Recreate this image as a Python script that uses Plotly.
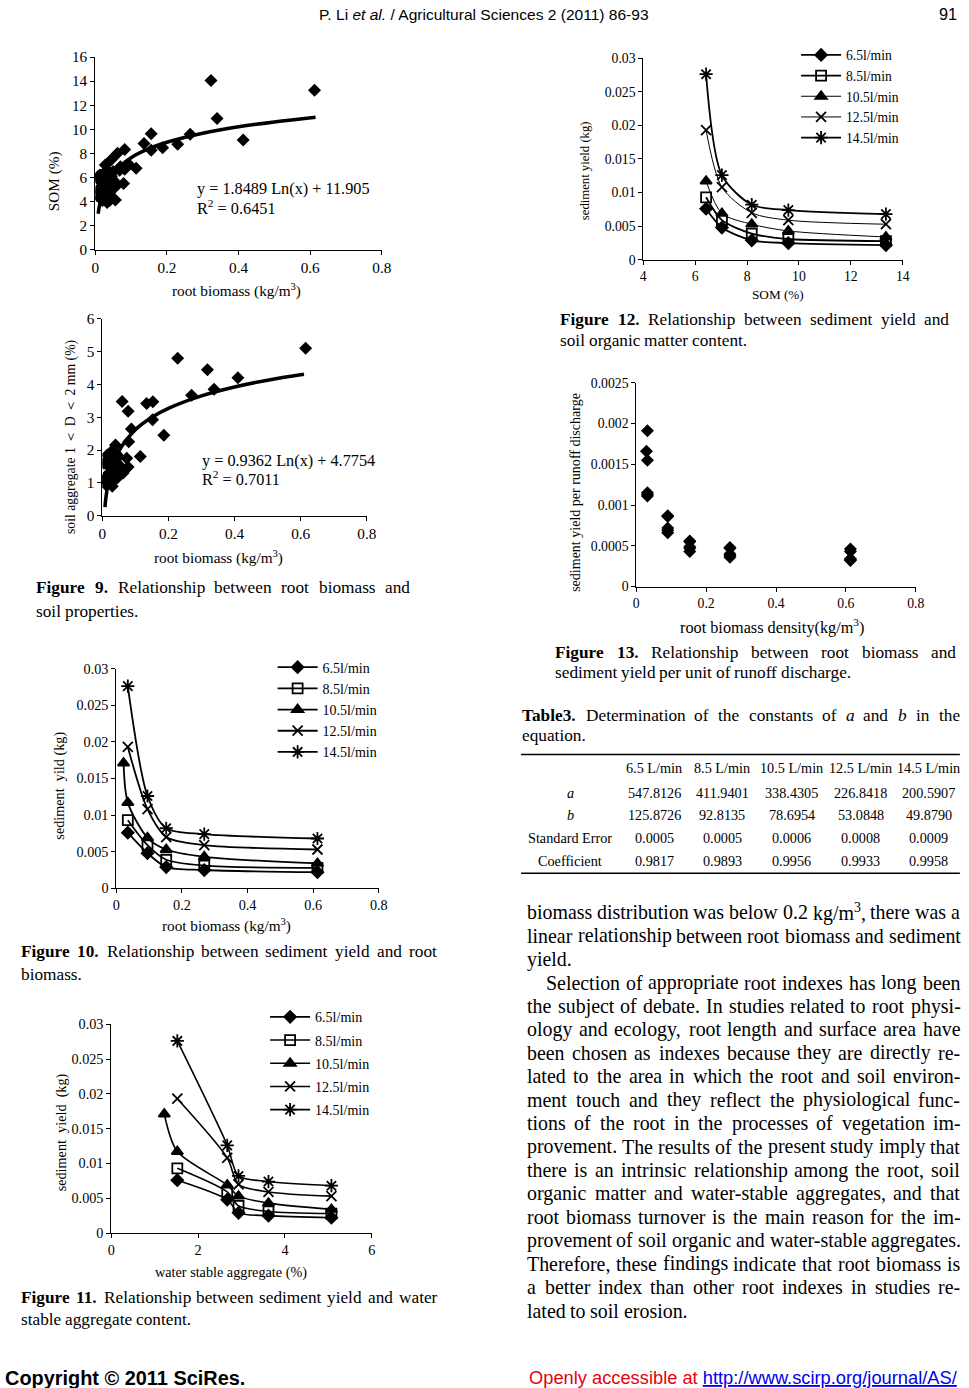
import re
import plotly.graph_objects as go

W, H = 969, 1388
# The page is photographed inside an 8px frame and scaled back to 969x1388,
# so target pixels T are converted to page pixels before use.
SX, SY = (W + 16) / W, (H + 16) / H
FS = SX
XSHIFT = 2
SERIF = "Liberation Serif, Times New Roman, serif"
SANS = "Liberation Sans Narrow, Arial Narrow, Liberation Sans, Arial, sans-serif"

# ---------------- DATA ----------------
# Figure 9a: SOM vs root biomass
som_rb_x = [0.323, 0.612, 0.340, 0.413, 0.156, 0.265, 0.230, 0.188, 0.156, 0.136, 0.114,
            0.082, 0.062, 0.045, 0.028, 0.082, 0.093, 0.079, 0.060, 0.056, 0.033, 0.007,
            0.005, 0.010, 0.015, 0.020, 0.020, 0.025, 0.025, 0.030, 0.030, 0.035, 0.035,
            0.040, 0.040, 0.045, 0.045, 0.050, 0.050, 0.055, 0.015, 0.020, 0.010, 0.040,
            0.028, 0.012, 0.018, 0.038, 0.068, 0.070]
som_rb_y = [14.05, 13.25, 10.90, 9.12, 9.64, 9.60, 8.76, 8.48, 8.26, 8.82, 6.78,
            8.32, 8.02, 7.50, 7.05, 6.70, 7.10, 5.50, 5.45, 4.13, 3.94, 6.06,
            4.50, 5.80, 6.20, 5.50, 4.80, 5.20, 6.40, 4.40, 5.90, 5.00, 6.60,
            4.60, 5.60, 6.10, 4.30, 5.80, 6.50, 5.20, 4.30, 4.10, 5.00, 4.10,
            4.70, 6.20, 5.30, 5.40, 6.60, 6.90]
som_fit_x = [0.008, 0.012, 0.02, 0.03, 0.05, 0.1, 0.15, 0.2, 0.3, 0.4, 0.5, 0.615]
som_fit_y = [3.0, 3.73, 4.67, 5.42, 6.37, 7.65, 8.40, 8.93, 9.68, 10.21, 10.62, 11.01]

# Figure 9b: soil aggregate vs root biomass
agg_rb_x = [0.615, 0.228, 0.318, 0.410, 0.338, 0.270, 0.186, 0.152, 0.153, 0.134, 0.060,
            0.078, 0.088, 0.080, 0.115, 0.074, 0.078, 0.063, 0.040, 0.005, 0.010, 0.015,
            0.020, 0.020, 0.025, 0.025, 0.030, 0.030, 0.035, 0.035, 0.040, 0.040, 0.045,
            0.050, 0.050, 0.055, 0.010, 0.015, 0.005, 0.030, 0.045, 0.022, 0.032]
agg_rb_y = [5.10, 4.80, 4.45, 4.20, 3.85, 3.67, 2.45, 2.92, 3.47, 3.42, 3.48,
            3.18, 2.64, 2.25, 1.80, 1.75, 1.48, 1.30, 2.15, 1.60, 1.10, 1.85,
            1.30, 1.60, 1.00, 1.45, 0.90, 1.20, 1.50, 1.75, 1.30, 1.90, 1.60,
            1.40, 1.80, 1.50, 0.95, 1.20, 1.10, 1.70, 1.15, 1.05, 2.00]
agg_fit_x = [0.008, 0.012, 0.02, 0.03, 0.05, 0.1, 0.15, 0.2, 0.3, 0.4, 0.5, 0.61]
agg_fit_y = [0.26, 0.64, 1.11, 1.49, 1.97, 2.62, 3.00, 3.27, 3.65, 3.92, 4.13, 4.31]

# Sediment yield (kg) for five flow rates
flows = ["6.5l/min", "8.5l/min", "10.5l/min", "12.5l/min", "14.5l/min"]
root_x = [0.035, 0.095, 0.152, 0.268, 0.613]
root_x_105 = [0.022, 0.035, 0.095, 0.152, 0.268, 0.613]
wsa_x = [1.52, 2.67, 2.93, 3.62, 5.07]
wsa_x_105 = [1.22, 1.52, 2.67, 2.93, 3.62, 5.07]
som_x = [6.42, 7.03, 8.18, 9.59, 13.35]
sed_65 = [0.0076, 0.0048, 0.0029, 0.0025, 0.0022]
sed_85 = [0.0093, 0.0059, 0.0039, 0.0031, 0.0028]
sed_105 = [0.0117, 0.0069, 0.0053, 0.0043, 0.0034]
sed_105_ext = [0.0171, 0.0117, 0.0069, 0.0053, 0.0043, 0.0034]
sed_125 = [0.0193, 0.0108, 0.0070, 0.0059, 0.0053]
sed_145 = [0.0276, 0.0126, 0.0082, 0.0074, 0.0068]

# Figure 13: sediment yield per runoff discharge
unit_x = [0.029, 0.032, 0.032, 0.032, 0.032, 0.032,
          0.090, 0.090, 0.090, 0.090, 0.090,
          0.153, 0.153, 0.153, 0.153, 0.153,
          0.268, 0.268, 0.268, 0.268, 0.268,
          0.613, 0.613, 0.613, 0.613, 0.613]
unit_y = [0.00166, 0.00191, 0.00155, 0.00115, 0.00111, 0.00113,
          0.00087, 0.00086, 0.00072, 0.00069, 0.00066,
          0.00056, 0.00055, 0.00049, 0.00047, 0.00043,
          0.00048, 0.00047, 0.00040, 0.00038, 0.00036,
          0.00046, 0.00043, 0.00034, 0.00033, 0.00032]

# Tick labels
tick_rb = [0, 0.2, 0.4, 0.6, 0.8]
tick_rb_txt = ["0", "0.2", "0.4", "0.6", "0.8"]
tick_som_y = [0, 2, 4, 6, 8, 10, 12, 14, 16]
tick_agg_y = [0, 1, 2, 3, 4, 5, 6]
tick_sed = [0, 0.005, 0.01, 0.015, 0.02, 0.025, 0.03]
tick_sed_txt = ["0", "0.005", "0.01", "0.015", "0.02", "0.025", "0.03"]
tick_wsa = [0, 2, 4, 6]
tick_somx = [4, 6, 8, 10, 12, 14]
tick_unit = [0, 0.0005, 0.001, 0.0015, 0.002, 0.0025]
tick_unit_txt = ["0", "0.0005", "0.001", "0.0015", "0.002", "0.0025"]

# Table 3
tab_cols = ["6.5 L/min", "8.5 L/min", "10.5 L/min", "12.5 L/min", "14.5 L/min"]
tab_rows = ["<i>a</i>", "<i>b</i>", "Standard Error", "Coefficient"]
tab_vals = [["547.8126", "411.9401", "338.4305", "226.8418", "200.5907"],
            ["125.8726", "92.8135", "78.6954", "53.0848", "49.8790"],
            ["0.0005", "0.0005", "0.0006", "0.0008", "0.0009"],
            ["0.9817", "0.9893", "0.9956", "0.9933", "0.9958"]]

body_lines = [
    "biomass distribution was below 0.2 kg/m<sup>3</sup>, there was a",
    "linear relationship between root biomass and sediment",
    "yield.",
    "Selection of appropriate root indexes has long been",
    "the subject of debate. In studies related to root physi-",
    "ology and ecology, root length and surface area have",
    "been chosen as indexes because they are directly re-",
    "lated to the area in which the root and soil environ-",
    "ment touch and they reflect the physiological func-",
    "tions of the root in the processes of vegetation im-",
    "provement. The results of the present study imply that",
    "there is an intrinsic relationship among the root, soil",
    "organic matter and water-stable aggregates, and that",
    "root biomass turnover is the main reason for the im-",
    "provement of soil organic and water-stable aggregates.",
    "Therefore, these findings indicate that root biomass is",
    "a better index than other root indexes in studies re-",
    "lated to soil erosion.",
]
body_last = {2, 17}   # paragraph-final lines (not justified)

# ---------------- HELPERS ----------------
def PX(t):
    return (t + XSHIFT) * SX - 8

def PY(t):
    return t * SY - 8

def X(t):
    return PX(t) / W

def Y(t):
    return 1 - PY(t) / H

# Times (Liberation Serif) advance widths, 1/1000 em
_R = dict(zip(" !\"#$%&'()*+,-./0123456789:;<=>?@",
              [250, 333, 408, 500, 500, 833, 778, 333, 333, 333, 500, 564, 250, 333, 250, 278]
              + [500] * 10 + [278, 278, 564, 564, 564, 444, 921]))
_R.update(dict(zip("ABCDEFGHIJKLMNOPQRSTUVWXYZ",
                   [722, 667, 667, 722, 611, 556, 722, 722, 333, 389, 722, 611, 889, 722, 722,
                    556, 722, 667, 556, 611, 722, 722, 944, 722, 722, 611])))
_R.update(dict(zip("abcdefghijklmnopqrstuvwxyz",
                   [444, 500, 444, 500, 444, 333, 500, 500, 278, 278, 500, 278, 778, 500, 500,
                    500, 500, 333, 389, 278, 500, 500, 722, 500, 500, 444])))
_B = dict(_R)
_B.update(dict(zip("abcdefghijklmnopqrstuvwxyz",
                   [500, 556, 444, 556, 444, 333, 500, 556, 278, 333, 556, 278, 833, 556, 500,
                    556, 556, 444, 389, 333, 556, 500, 722, 500, 500, 444])))
_B.update({"T": 667, "F": 611, ".": 250})

def word_width(word, size):
    table = _B if word.startswith("<b>") else _R
    total = 0.0
    for part in re.split(r"(<sup>.*?</sup>)", word):
        scale = 0.7 if part.startswith("<sup>") else 1.0
        for ch in re.sub(r"<[^>]+>", "", part):
            total += table.get(ch, 500) * scale
    return total / 1000.0 * size

fig = go.Figure()
annots = []
shapes = []

def txt_page(px, y, s, size, family=SERIF, xanchor="left", color="black", angle=0):
    annots.append(dict(x=px / W, y=Y(y), xref="paper", yref="paper", text=s, showarrow=False,
                       xanchor=xanchor, yanchor="middle", textangle=angle, borderpad=0,
                       font=dict(family=family, size=size * FS, color=color)))

def txt(x, y, s, size=16, family=SERIF, xanchor="left", color="black", angle=0):
    txt_page(PX(x), y, s, size, family, xanchor, color, angle)

def jline(s, y, left, right, size, justify=True):
    words = s.split(" ")
    lp, rp = PX(left), PX(right)
    widths = [word_width(w, size * FS) for w in words]
    gap = 0.25 * size * FS
    if justify and len(words) > 1:
        gap = max(0.2 * size * FS, (rp - lp - sum(widths)) / (len(words) - 1))
    x = lp
    for k, w in enumerate(words):
        txt_page(x, y, w, size)
        x += widths[k] + gap

def axis(dom, rng, tv, tt, fs, anchor):
    return dict(domain=dom, range=rng, tickvals=tv, ticktext=tt, showline=True, linecolor="black",
                linewidth=1, ticks="outside", ticklen=4, tickcolor="black", showgrid=False,
                zeroline=False, anchor=anchor, tickfont=dict(family=SERIF, size=fs * FS, color="black"))

panels = {
    1: dict(x0=97, x1=383, y0=56, y1=249),     # Fig 9a
    2: dict(x0=104, x1=368, y0=318, y1=515),   # Fig 9b
    3: dict(x0=118, x1=380, y0=668, y1=888),   # Fig 10
    4: dict(x0=113, x1=373, y0=1024, y1=1233), # Fig 11
    5: dict(x0=644, x1=903, y0=57, y1=259),    # Fig 12
    6: dict(x0=637, x1=916, y0=382, y1=586),   # Fig 13
}
axcfg = {
    1: ([0, 0.8], tick_rb, tick_rb_txt, [0, 16], tick_som_y, [str(v) for v in tick_som_y], 15),
    2: ([0, 0.8], tick_rb, tick_rb_txt, [0, 6], tick_agg_y, [str(v) for v in tick_agg_y], 15),
    3: ([0, 0.8], tick_rb, tick_rb_txt, [0, 0.03], tick_sed, tick_sed_txt, 14),
    4: ([0, 6], tick_wsa, [str(v) for v in tick_wsa], [0, 0.03], tick_sed, tick_sed_txt, 14),
    5: ([4, 14], tick_somx, [str(v) for v in tick_somx], [0, 0.03], tick_sed, tick_sed_txt, 13.5),
    6: ([0, 0.8], tick_rb, tick_rb_txt, [0, 0.0025], tick_unit, tick_unit_txt, 13.5),
}
layout_axes = {}
for i, p in panels.items():
    xr, xtv, xtt, yr, ytv, ytt, fs = axcfg[i]
    xn = "xaxis" if i == 1 else f"xaxis{i}"
    yn = "yaxis" if i == 1 else f"yaxis{i}"
    layout_axes[xn] = axis([X(p["x0"]), X(p["x1"])], xr, xtv, xtt, fs, "y" if i == 1 else f"y{i}")
    layout_axes[yn] = axis([Y(p["y1"]), Y(p["y0"])], yr, ytv, ytt, fs, "x" if i == 1 else f"x{i}")

def ax(i):
    return ("x", "y") if i == 1 else (f"x{i}", f"y{i}")

# ---------------- TRACES ----------------
xa, ya = ax(1)
fig.add_trace(go.Scatter(x=som_rb_x, y=som_rb_y, mode="markers", xaxis=xa, yaxis=ya, showlegend=False,
                         marker=dict(symbol="diamond", size=10, color="black")))
fig.add_trace(go.Scatter(x=som_fit_x, y=som_fit_y, mode="lines", xaxis=xa, yaxis=ya, showlegend=False,
                         line=dict(color="black", width=3.5, shape="spline")))
xa, ya = ax(2)
fig.add_trace(go.Scatter(x=agg_rb_x, y=agg_rb_y, mode="markers", xaxis=xa, yaxis=ya, showlegend=False,
                         marker=dict(symbol="diamond", size=10, color="black")))
fig.add_trace(go.Scatter(x=agg_fit_x, y=agg_fit_y, mode="lines", xaxis=xa, yaxis=ya, showlegend=False,
                         line=dict(color="black", width=3.5, shape="spline")))

symbols = ["diamond", "square-open", "triangle-up", "x-thin-open", "asterisk-open"]
msizes = [9, 10, 10, 10, 11]

def series_set(i, xs_list, ys_list, legend_name, widths):
    xa, ya = ax(i)
    for k in range(5):
        fig.add_trace(go.Scatter(
            x=xs_list[k], y=ys_list[k], mode="lines+markers", name=flows[k], xaxis=xa, yaxis=ya,
            legend=legend_name, legendgroup=f"{legend_name}{k}",
            line=dict(color="black", width=widths[k], shape="spline", smoothing=0.8),
            marker=dict(symbol=symbols[k], size=msizes[k], color="black",
                        line=dict(color="black", width=1.8))))

series_set(3, [root_x, root_x, root_x_105, root_x, root_x],
           [sed_65, sed_85, sed_105_ext, sed_125, sed_145], "legend", [1.8] * 5)
series_set(4, [wsa_x, wsa_x, wsa_x_105, wsa_x, wsa_x],
           [sed_65, sed_85, sed_105_ext, sed_125, sed_145], "legend2", [1.6] * 5)
series_set(5, [som_x] * 5, [sed_65, sed_85, sed_105, sed_125, sed_145], "legend3",
           [1.8, 1.8, 1.0, 1.0, 1.8])

xa, ya = ax(6)
fig.add_trace(go.Scatter(x=unit_x, y=unit_y, mode="markers", xaxis=xa, yaxis=ya, showlegend=False,
                         marker=dict(symbol="diamond", size=10, color="black")))

# ---------------- TEXT ----------------
txt(485, 13, "P. Li <i>et al.</i> / Agricultural Sciences 2 (2011) 86-93", 15.3, SANS, "center")
txt(958, 13, "91", 16, SANS, "right")
txt(6, 1378, "<b>Copyright © 2011 SciRes.</b>", 19.6, SANS, "left")
txt(959, 1378, "<span style='color:#e8000b'>Openly accessible at </span>"
    "<span style='color:#0000ee;text-decoration:underline'>http://www.scirp.org/journal/AS/</span>",
    18, SANS, "right")

# axis titles and equations
txt(56, 180, "SOM (%)", 15, angle=-90, xanchor="center")
txt(238, 289, "root biomass (kg/m<sup>3</sup>)", 15, xanchor="center")
txt(198, 188, "y = 1.8489 Ln(x) + 11.905", 16)
txt(198, 207, "R<sup>2</sup> = 0.6451", 16)

txt(72, 436, "soil aggregate 1 ＜ D ＜ 2 mm (%)", 13.5, angle=-90, xanchor="center")
txt(220, 556, "root biomass (kg/m<sup>3</sup>)", 15, xanchor="center")
txt(203, 460, "y = 0.9362 Ln(x) + 4.7754", 16)
txt(203, 478, "R<sup>2</sup> = 0.7011", 16)

txt(61, 785, "sediment  yild (kg)", 14, angle=-90, xanchor="center")
txt(228, 925, "root biomass (kg/m<sup>3</sup>)", 15, xanchor="center")

txt(63, 1132, "sediment  yield  (kg)", 14, angle=-90, xanchor="center")
txt(232, 1272, "water stable aggregate (%)", 14, xanchor="center")

txt(586, 170, "sediment yield (kg)", 12.5, angle=-90, xanchor="center")
txt(778, 294, "SOM (%)", 13, xanchor="center")

txt(577, 492, "sediment yield per runoff discharge", 13.8, angle=-90, xanchor="center")
txt(772, 626, "root biomass density(kg/m<sup>3</sup>)", 16, xanchor="center")

# captions (justified)
CAP = 17
jline("<b>Figure</b> <b>9.</b> Relationship between root biomass and", 587, 37, 410, CAP)
jline("soil properties.", 611, 37, 410, CAP, justify=False)
jline("<b>Figure</b> <b>10.</b> Relationship between sediment yield and root", 951, 22, 437, CAP)
jline("biomass.", 974, 22, 437, CAP, justify=False)
jline("<b>Figure</b> <b>11.</b> Relationship between sediment yield and water", 1298, 22, 437, CAP)
jline("stable aggregate content.", 1320, 22, 437, CAP, justify=False)
jline("<b>Figure</b> <b>12.</b> Relationship between sediment yield and", 319, 560, 948, CAP)
jline("soil organic matter content.", 340, 560, 948, CAP, justify=False)
jline("<b>Figure</b> <b>13.</b> Relationship between root biomass and", 652, 555, 955, CAP)
jline("sediment yield per unit of runoff discharge.", 672, 555, 955, CAP, justify=False)

# table
jline("<b>Table3.</b> Determination of the constants of <i>a</i> and <i>b</i> in the", 715, 522, 959, CAP)
jline("equation.", 735, 522, 959, CAP, justify=False)
col_x = [655, 723, 792, 861, 929]
row_y = [793, 815, 838, 861]
for j, c in enumerate(tab_cols):
    txt(col_x[j], 768, c, 14, xanchor="center")
for r, rname in enumerate(tab_rows):
    txt(571, row_y[r], rname, 14, xanchor="center")
    for j in range(5):
        txt(col_x[j], row_y[r], tab_vals[r][j], 14, xanchor="center")
for yy in (754, 873):
    shapes.append(dict(type="line", xref="paper", yref="paper", x0=X(522), x1=X(960),
                       y0=Y(yy), y1=Y(yy), line=dict(color="black", width=1.5)))

# body text (justified)
BODY = 19.6
for k, line in enumerate(body_lines):
    left = 546 if k == 3 else 527
    jline(line, 912 + k * 23.45, left, 959, BODY, justify=(k not in body_last))

# ---------------- LAYOUT ----------------
leg_common = dict(xanchor="left", yanchor="top", bgcolor="rgba(0,0,0,0)", itemwidth=40, borderwidth=0)
fig.update_layout(
    width=W, height=H, margin=dict(l=0, r=0, t=0, b=0),
    paper_bgcolor="white", plot_bgcolor="white",
    annotations=annots, shapes=shapes,
    legend=dict(x=X(274), y=Y(651), font=dict(family=SERIF, size=14, color="black"),
                traceorder="normal", **leg_common),
    legend2=dict(x=X(266.5), y=Y(1001), font=dict(family=SERIF, size=14, color="black"),
                 traceorder="grouped", tracegroupgap=2, **leg_common),
    legend3=dict(x=X(796.5), y=Y(38.5), font=dict(family=SERIF, size=13.6, color="black"),
                 traceorder="normal", **leg_common),
    **layout_axes,
)
fig.write_html("out.html", config={"displayModeBar": False},
               post_script="document.body.style.margin='0';document.body.style.overflow='hidden';")
